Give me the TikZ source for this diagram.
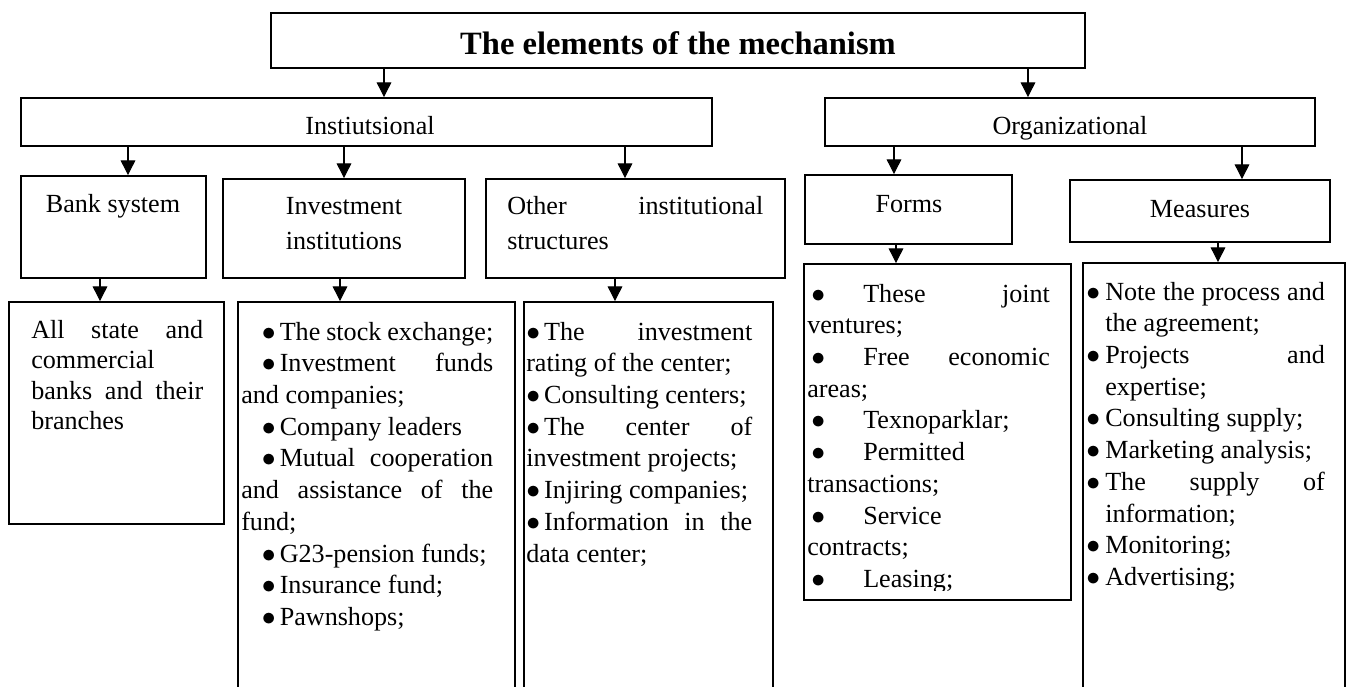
\documentclass[tikz,border=0pt]{standalone}
\usepackage{fontspec}
\setmainfont{Liberation Serif}
\usetikzlibrary{fit,arrows.meta}

\hyphenpenalty=10000
\exhyphenpenalty=10000
\tolerance=10000
\hbadness=10000

\newcommand{\hdfont}{\fontsize{19.6}{26.25}\selectfont}
\newcommand{\lsfont}{\fontsize{19.6}{23.8}\selectfont}
\newcommand{\bul}{$\bullet$\hspace{3pt}}
\newcommand{\fb}{\hspace*{3pt}\makebox[39pt][l]{$\bullet$}}
\newcommand{\mb}{\hangindent=14.25pt\hangafter=1\makebox[14.25pt][l]{$\bullet$}}

\begin{document}
\begin{tikzpicture}[x=0.75pt, y=-0.75pt,
  box/.style={draw, line width=1.4pt, inner sep=0pt},
  arr/.style={-{Triangle[length=11pt,width=11pt]}, line width=0.8pt},
  hd/.style={inner sep=0pt, anchor=base, font=\hdfont},
  txt/.style={inner sep=0pt, anchor=base west, align=justify, font=\lsfont}]
\useasboundingbox (0,0) rectangle (1350,686);
\clip (0,0) rectangle (1350,686);

% Title and the two groups
\node[box, fit={(271,13) (1085,68)}] (top) {};
\node[box, fit={(21,98) (712,146)}] (inst) {};
\node[box, fit={(825,98) (1315,146)}] (org) {};

\node[hd, font=\fontsize{24.4}{29}\selectfont\bfseries] (toptxt) at (678,54) {The elements of the mechanism};
\node[hd] (insttxt) at (370,134) {Instiutsional};
\node[hd] (orgtxt) at (1070,134) {Organizational};

% Third level
\node[box, fit={(21,176) (206,278)}] (bank) {};
\node[box, fit={(223,179) (465,278)}] (invest) {};
\node[box, fit={(486,179) (785,278)}] (other) {};
\node[box, fit={(805,175) (1012,244)}] (forms) {};
\node[box, fit={(1070,180) (1330,242)}] (measures) {};

\node[hd] (banktxt) at (113,212) {Bank system};
\node[hd, text width=180pt, align=center] (investtxt) at (344,214) {Investment\\institutions};
\node[txt, font=\hdfont, text width=192pt] (othertxt) at (507,214) {Other institutional structures};
\node[hd] (formstxt) at (909,212) {Forms};
\node[hd] (measurestxt) at (1200,217) {Measures};

% Lists
\node[box, fit={(9,302) (224,524)}] (banklist) {};
\node[box, fit={(238,302) (515,720)}] (investlist) {};
\node[box, fit={(524,302) (773,720)}] (otherlist) {};
\node[box, fit={(804,264) (1071,600)}] (formslist) {};
\node[box, fit={(1083,263) (1345,720)}] (measureslist) {};

\node[txt, text width=129pt, font=\fontsize{19.6}{22.9}\selectfont] (banklisttxt) at (31,338)
  {All state and\linebreak commercial\linebreak banks and their\linebreak branches};

\node[txt, text width=189pt] (investlisttxt) at (241,340) {%
  \hspace*{15.5pt}\bul The stock exchange;\par
  \hspace*{15.5pt}\bul Investment funds\linebreak and companies;\par
  \hspace*{15.5pt}\bul Company leaders\par
  \hspace*{15.5pt}\bul Mutual cooperation\linebreak and assistance of the\linebreak fund;\par
  \hspace*{15.5pt}\bul G23-pension funds;\par
  \hspace*{15.5pt}\bul Insurance fund;\par
  \hspace*{15.5pt}\bul Pawnshops;};

\node[txt, text width=169.5pt] (otherlisttxt) at (526,340) {%
  \bul The investment\linebreak rating of the center;\par
  \bul Consulting centers;\par
  \bul The center of\linebreak investment projects;\par
  \bul Injiring companies;\par
  \bul Information in the\linebreak data center;};

\begin{scope}
\clip (804,264) rectangle (1071,590);
\node[txt, text width=182pt] (formslisttxt) at (807,302) {%
  \fb These joint\linebreak ventures;\par
  \fb Free economic\linebreak areas;\par
  \fb Texnoparklar;\par
  \fb Permitted\linebreak transactions;\par
  \fb Service\linebreak contracts;\par
  \fb Leasing;};
\end{scope}

\node[txt, text width=179pt] (measureslisttxt) at (1086,300) {%
  \mb Note the process and\linebreak the agreement;\par
  \mb Projects and\linebreak expertise;\par
  \mb Consulting supply;\par
  \mb Marketing analysis;\par
  \mb The supply of\linebreak information;\par
  \mb Monitoring;\par
  \mb Advertising;};

% Arrows
\foreach \x/\a/\b in {384/top/inst, 1028/top/org, 128/inst/bank, 344/inst/invest,
    625/inst/other, 894/org/forms, 1242/org/measures, 100/bank/banklist,
    340/invest/investlist, 615/other/otherlist, 896/forms/formslist,
    1218/measures/measureslist}
  \draw[arr] (\a.south -| \x,0) -- (\b.north -| \x,0);
\end{tikzpicture}
\end{document}
